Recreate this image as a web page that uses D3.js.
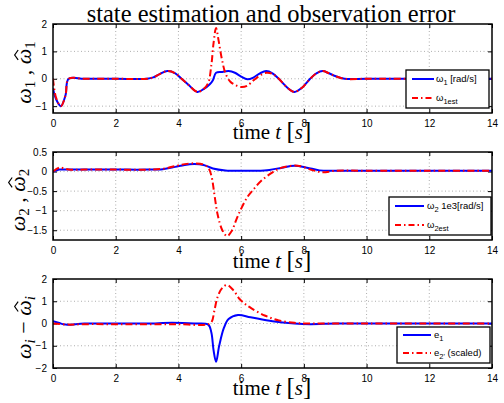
<!DOCTYPE html>
<html><head><meta charset="utf-8">
<script src="https://cdn.jsdelivr.net/npm/d3@7"></script>
<style>body{margin:0;background:#fff}svg{display:block}</style>
</head><body>
<svg id="c" width="504" height="403"></svg>
<script>
const xTicks = [0,2,4,6,8,10,12,14];
// Panel 1
const tW1 = [0,0.1,0.25,0.4,0.5,1,2,3,3.2,3.4,3.65,3.9,4.1,4.3,4.6,4.8,5.0,5.1,5.2,5.4,5.6,5.8,6.0,6.2,6.4,6.6,6.8,7.0,7.2,7.45,7.7,7.95,8.2,8.4,8.6,8.8,9.0,9.3,10,12,14];
const w1   = [-0.35,-0.75,-1.0,-0.6,0,0,0,0,0.05,0.17,0.28,0.2,0.0,-0.2,-0.48,-0.38,-0.2,-0.05,0.22,0.25,0.28,0.22,0.08,-0.02,0.05,0.2,0.28,0.2,0.0,-0.3,-0.48,-0.32,0.0,0.2,0.28,0.2,0.1,0.0,0,0,0];
const tW1e = [0,0.1,0.25,0.4,0.5,1,2,3,3.2,3.4,3.65,3.9,4.1,4.3,4.6,4.8,4.95,5.05,5.12,5.2,5.28,5.38,5.5,5.65,5.8,6.0,6.2,6.4,6.6,6.8,7.0,7.2,7.45,7.7,7.95,8.2,8.4,8.6,8.8,9.0,9.3,10,12,14];
const w1est= [0,-0.7,-1.0,-0.6,0,0,0,0,0.05,0.17,0.28,0.2,0.0,-0.2,-0.48,-0.38,-0.15,0.5,1.3,1.85,1.4,0.75,0.2,-0.1,-0.22,-0.3,-0.25,-0.05,0.12,0.22,0.18,0.0,-0.3,-0.48,-0.32,0.0,0.2,0.28,0.2,0.1,0.0,0,0,0];
// Panel 2
const tW2 = [0,0.2,0.5,1,2,3,3.5,3.9,4.2,4.5,4.8,5.1,5.5,6,6.5,6.9,7.3,7.7,8.1,8.5,9,10,12,14];
const w2  = [0,0.05,0.05,0.05,0.05,0.05,0.06,0.12,0.17,0.19,0.17,0.08,0.03,0.02,0.02,0.04,0.1,0.15,0.1,0.03,0.02,0.02,0.02,0.02];
const tW2e = [0,0.2,0.5,1,2,3,3.5,3.9,4.2,4.5,4.8,4.95,5.05,5.15,5.25,5.4,5.55,5.7,5.85,6.0,6.2,6.4,6.65,7.0,7.3,7.8,8.3,8.6,9,10,12,14];
const w2est= [0,0.1,0.05,0.05,0.05,0.05,0.07,0.14,0.19,0.21,0.18,0.1,-0.1,-0.6,-1.1,-1.5,-1.65,-1.52,-1.22,-0.95,-0.65,-0.45,-0.23,-0.02,0.1,0.15,0.03,-0.02,0.02,0.02,0.02,0.02];
// Panel 3
const tE1 = [0,0.2,0.4,1,2,3,3.8,4.5,4.95,5.05,5.12,5.2,5.3,5.45,5.6,5.9,6.3,7.0,7.7,8.2,9,10,12,14];
const e1  = [0.1,0.02,-0.05,0,0,0,0.03,0,-0.05,-0.4,-1.2,-1.72,-1.0,-0.2,0.2,0.38,0.28,0.1,0.0,-0.03,0,0,0,0];
const tE2 = [0,0.5,1,2,3,4,4.9,5.05,5.15,5.25,5.4,5.55,5.75,5.95,6.15,6.33,6.75,7.2,7.7,8.1,9,10,12,14];
const e2  = [0,-0.05,-0.03,-0.03,-0.03,-0.03,-0.05,0.05,0.6,1.2,1.6,1.73,1.5,1.1,0.85,0.68,0.36,0.14,0.03,0,0,0,0,0];

const svg = d3.select("#c");
const L = 53, R = 492;
const x = d3.scaleLinear().domain([0,14]).range([L,R]);
const SERIF = "Liberation Serif, Times New Roman, serif";
const SANS = "Liberation Sans, Arial, sans-serif";

svg.append("text").attr("x",271).attr("y",22).attr("text-anchor","middle")
  .attr("font-family",SERIF).attr("font-size",24.5)
  .text("state estimation and observation error");

const panels = [
  {top:24,bottom:113,dom:[-1.25,2],ticks:[-1,0,1,2],xl:139,ylx:31,
   series:[[tW1,w1,"#0000ff",false],[tW1e,w1est,"#ff0000",true]],
   ylab:[["ω",""],["1","sub"],[" , ",""],["ω","hat"],["1","sub"]],
   leg:{x0:406,x1:489,y0:70,y1:108,s0:412,s1:434,tx:436,l1:79,l2:98,
        items:[[["ω",""],["1","sub"],[" [rad/s]",""]],[["ω",""],["1est","sub"]]]}},
  {top:152,bottom:240,dom:[-1.75,0.5],ticks:[-1.5,-1,-0.5,0,0.5],xl:268,ylx:25,
   series:[[tW2,w2,"#0000ff",false],[tW2e,w2est,"#ff0000",true]],
   ylab:[["ω",""],["2","sub"],[" , ",""],["ω","hat"],["2","sub"]],
   leg:{x0:389,x1:491,y0:197,y1:235,s0:395,s1:424,tx:427,l1:206,l2:225,
        items:[[["ω",""],["2","sub"],[" 1e3[rad/s]",""]],[["ω",""],["2est","sub"]]]}},
  {top:279,bottom:368,dom:[-2,2],ticks:[-2,-1,0,1,2],xl:395,ylx:31,
   series:[[tE1,e1,"#0000ff",false],[tE2,e2,"#ff0000",true]],
   ylab:[["ω",""],["i","subi"],[" − ",""],["ω","hat"],["i","subi"]],
   leg:{x0:397,x1:490,y0:327,y1:363,s0:403,s1:431,tx:434,l1:335,l2:353,
        items:[[["e",""],["1","sub"]],[["e",""],["2'","sub"],[" (scaled)",""]]]}}
];

const fmt = v => d3.format("")(v).replace("-","−");

panels.forEach(p => {
  const y = d3.scaleLinear().domain(p.dom).range([p.bottom,p.top]);
  const g = svg.append("g");
  // grid
  xTicks.slice(1,-1).forEach(t => g.append("line").attr("x1",x(t)).attr("x2",x(t)).attr("y1",p.top).attr("y2",p.bottom)
     .attr("stroke","#999").attr("stroke-width",0.8).attr("stroke-dasharray","1,2.5"));
  p.ticks.forEach(t => { if (y(t)>p.top+1 && y(t)<p.bottom-1)
     g.append("line").attr("x1",L).attr("x2",R).attr("y1",y(t)).attr("y2",y(t))
     .attr("stroke","#999").attr("stroke-width",0.8).attr("stroke-dasharray","1,2.5"); });
  // axes via d3
  const ax = d3.axisBottom(x).tickValues(xTicks).tickSize(-4).tickPadding(7).tickFormat(d3.format(""));
  const ay = d3.axisLeft(y).tickValues(p.ticks).tickSize(-4).tickPadding(6).tickFormat(fmt);
  const gx = g.append("g").attr("transform",`translate(0,${p.bottom})`).call(ax);
  const gy = g.append("g").attr("transform",`translate(${L},0)`).call(ay);
  g.append("g").attr("transform",`translate(0,${p.top})`).call(d3.axisTop(x).tickValues(xTicks).tickSize(-4).tickFormat(""));
  g.append("g").attr("transform",`translate(${R},0)`).call(d3.axisRight(y).tickValues(p.ticks).tickSize(-4).tickFormat(""));
  g.selectAll(".domain").remove();
  g.selectAll(".tick line").attr("stroke","#000");
  [gx,gy].forEach(a => a.selectAll("text").attr("font-family",SANS).attr("font-size",10).attr("fill","#000"));
  // lines
  const clipId = "clip"+p.top;
  svg.append("clipPath").attr("id",clipId).append("rect").attr("x",L).attr("y",p.top).attr("width",R-L).attr("height",p.bottom-p.top);
  p.series.forEach(([ts,vs,col,dash]) => {
    const line = d3.line().x(d=>x(d[0])).y(d=>y(d[1])).curve(d3.curveCatmullRom.alpha(0.5));
    g.append("path").attr("d",line(ts.map((t,i)=>[t,vs[i]]))).attr("fill","none")
      .attr("stroke",col).attr("stroke-width",2).attr("clip-path",`url(#${clipId})`)
      .attr("stroke-dasharray",dash?"7,3,1.5,3":null);
  });
  // box
  g.append("rect").attr("x",L).attr("y",p.top).attr("width",R-L).attr("height",p.bottom-p.top)
    .attr("fill","none").attr("stroke","#000").attr("stroke-width",1.5);
  // y label
  const cy = (p.top+p.bottom)/2 + 4;
  const yg = svg.append("g").attr("transform",`translate(${p.ylx},${cy}) rotate(-90)`);
  const yl = yg.append("text").attr("text-anchor","middle")
    .attr("font-family",SERIF).attr("font-size",22);
  let prev=false, idx=0; const hats=[];
  p.ylab.forEach(([s,k]) => {
    const ts = yl.append("tspan").text(s);
    if (k==="sub"||k==="subi") { ts.attr("font-size",15).attr("dy",4).attr("font-style",k==="subi"?"italic":null); prev=true; }
    else { ts.attr("font-style", s.trim()===","||s.trim()==="−" ? null : "italic"); if (prev) { ts.attr("dy",-4); prev=false; } }
    if (k==="hat") hats.push(idx);
    idx += s.length;
  });
  hats.forEach(i => {
    const e = yl.node().getExtentOfChar(i);
    const cx = e.x + e.width/2 + 1.5, by = e.y + e.height*0.78;
    const top = by - 22*0.72, hw = e.width*0.32;
    yg.append("path").attr("d",`M${cx-hw},${top+3.5}L${cx},${top}L${cx+hw},${top+3.5}`)
      .attr("fill","none").attr("stroke","#000").attr("stroke-width",1.2);
  });
  // x label
  const xl = svg.append("text").attr("x",272).attr("y",p.xl).attr("text-anchor","middle")
    .attr("font-family",SERIF).attr("font-size",21);
  xl.append("tspan").text("time ");
  xl.append("tspan").attr("font-style","italic").text("t");
  xl.append("tspan").text("  ");
  xl.append("tspan").attr("font-size",25).text("[");
  xl.append("tspan").attr("font-style","italic").text("s");
  xl.append("tspan").attr("font-size",25).text("]");
  // legend
  const lg = p.leg;
  svg.append("rect").attr("x",lg.x0).attr("y",lg.y0).attr("width",lg.x1-lg.x0).attr("height",lg.y1-lg.y0)
    .attr("fill","#fff").attr("stroke","#000").attr("stroke-width",1.3);
  [lg.l1,lg.l2].forEach((ly,i) => {
    svg.append("line").attr("x1",lg.s0).attr("x2",lg.s1).attr("y1",ly).attr("y2",ly)
      .attr("stroke",p.series[i][2]).attr("stroke-width",2).attr("stroke-dasharray",p.series[i][3]?"6,3,1.5,3":null);
    const tx = svg.append("text").attr("x",lg.tx).attr("y",ly+3)
      .attr("font-family",SANS).attr("font-size",9.5);
    let prevSub=false;
    lg.items[i].forEach(([s,k]) => {
      const ts = tx.append("tspan").text(s);
      if (k==="sub") { ts.attr("font-size",7.5).attr("dy",3); prevSub=true; }
      else if (prevSub) { ts.attr("dy",-3); prevSub=false; }
    });
  });
});
</script>
</body></html>
